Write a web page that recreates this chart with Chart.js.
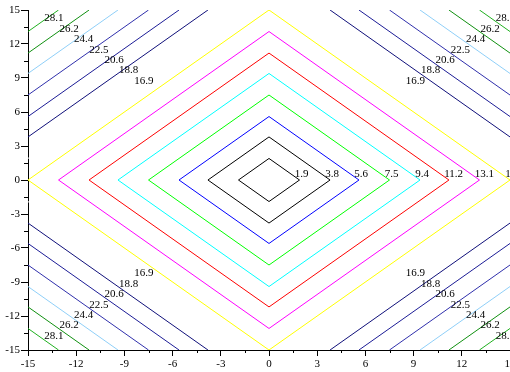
<!DOCTYPE html>
<html>
<head>
<meta charset="utf-8">
<script src="https://cdn.jsdelivr.net/npm/chart.js@4/dist/chart.umd.min.js"></script>
<style>
  html, body { margin: 0; padding: 0; background: #fff; }
  canvas { display: block; }
</style>
</head>
<body>
<canvas id="c" width="510" height="372"></canvas>
<script>
// Contour levels of z = |x| + |y| on the square [-15, 15] x [-15, 15]
const levels = [1.9, 3.8, 5.6, 7.5, 9.4, 11.2, 13.1, 15, 16.9, 18.8, 20.6, 22.5, 24.4, 26.2, 28.1];
const levelColors = [
  '#000000', '#000000', '#0000ff', '#00ff00', '#00ffff', '#ff0000', '#ff00ff', '#ffff00',
  '#ffffff', '#10107a', '#1c1c96', '#3030ac', '#8fcff8', '#109010', '#20b020'
];
const xTicks = [-15, -12, -9, -6, -3, 0, 3, 6, 9, 12, 15];
const yTicks = [-15, -12, -9, -6, -3, 0, 3, 6, 9, 12, 15];
const domain = 15;

// Points of one level line, split into pieces by null gaps where it leaves the square
function contourPoints(c) {
  const gap = { x: null, y: null };
  if (c <= domain) {
    return [{ x: c, y: 0 }, { x: 0, y: c }, { x: -c, y: 0 }, { x: 0, y: -c }, { x: c, y: 0 }];
  }
  const d = c - domain;
  return [
    { x: d, y: domain }, { x: domain, y: d }, gap,
    { x: -d, y: domain }, { x: -domain, y: d }, gap,
    { x: -d, y: -domain }, { x: -domain, y: -d }, gap,
    { x: d, y: -domain }, { x: domain, y: -d }
  ];
}

const datasets = levels.map((c, i) => ({
  label: String(c),
  data: contourPoints(c),
  showLine: true,
  spanGaps: false,
  borderColor: levelColors[i],
  borderWidth: 1,
  pointRadius: 0,
  fill: false,
  tension: 0
}));

const serif = { family: '"Liberation Serif", "DejaVu Serif", serif', size: 11 };

// Level values written beside each line
const levelLabels = {
  id: 'levelLabels',
  afterDatasetsDraw(chart) {
    const { ctx, scales: { x, y } } = chart;
    ctx.save();
    ctx.font = '11px "Liberation Serif", serif';
    ctx.fillStyle = '#000';
    ctx.textAlign = 'left';
    ctx.textBaseline = 'alphabetic';
    levels.forEach(c => {
      const txt = String(c);
      if (c <= domain) {
        const s = 0.3;
        ctx.fillText(txt, x.getPixelForValue(c - s), y.getPixelForValue(s));
      } else {
        const h = c / 2;
        [[h, h], [-h, h], [-h, -h], [h, -h]].forEach(([px, py]) => {
          ctx.fillText(txt, x.getPixelForValue(px) + 1, y.getPixelForValue(py));
        });
      }
    });
    ctx.restore();
  }
};

// Short ticks halfway between the labelled ones
const minorTicks = {
  id: 'minorTicks',
  afterDraw(chart) {
    const { ctx, chartArea, scales: { x, y } } = chart;
    ctx.save();
    ctx.strokeStyle = '#000';
    ctx.lineWidth = 1;
    ctx.beginPath();
    for (let i = 0; i < xTicks.length - 1; i++) {
      const v = (xTicks[i] + xTicks[i + 1]) / 2;
      const px = Math.round(x.getPixelForValue(v)) + 0.5;
      ctx.moveTo(px, chartArea.bottom);
      ctx.lineTo(px, chartArea.bottom + 3);
    }
    for (let i = 0; i < yTicks.length - 1; i++) {
      const v = (yTicks[i] + yTicks[i + 1]) / 2;
      const py = Math.round(y.getPixelForValue(v)) + 0.5;
      ctx.moveTo(chartArea.left - 4, py);
      ctx.lineTo(chartArea.left, py);
    }
    ctx.stroke();
    ctx.restore();
  }
};

new Chart(document.getElementById('c'), {
  type: 'scatter',
  data: { datasets },
  options: {
    responsive: false,
    animation: false,
    devicePixelRatio: 1,
    layout: { padding: { top: 10, right: 0, bottom: 0, left: 0 } },
    plugins: { legend: { display: false }, tooltip: { enabled: false } },
    scales: {
      x: {
        type: 'linear',
        min: -domain,
        max: domain,
        afterBuildTicks: s => { s.ticks = xTicks.map(v => ({ value: v })); },
        afterFit: s => { s.height = 22; s.paddingLeft = 0; s.paddingRight = 0; },
        ticks: { autoSkip: false, maxRotation: 0, color: '#000', font: serif, padding: 2 },
        grid: { drawOnChartArea: false, drawTicks: true, tickLength: 6, color: '#000' },
        border: { display: true, color: '#000', width: 1 }
      },
      y: {
        type: 'linear',
        min: -domain,
        max: domain,
        afterBuildTicks: s => { s.ticks = yTicks.map(v => ({ value: v })); },
        afterFit: s => { s.width = 28; s.paddingTop = 0; s.paddingBottom = 0; },
        ticks: { autoSkip: false, color: '#000', font: serif, padding: 1 },
        grid: { drawOnChartArea: false, drawTicks: true, tickLength: 7, color: '#000' },
        border: { display: true, color: '#000', width: 1 }
      }
    }
  },
  plugins: [levelLabels, minorTicks]
});
</script>
</body>
</html>
